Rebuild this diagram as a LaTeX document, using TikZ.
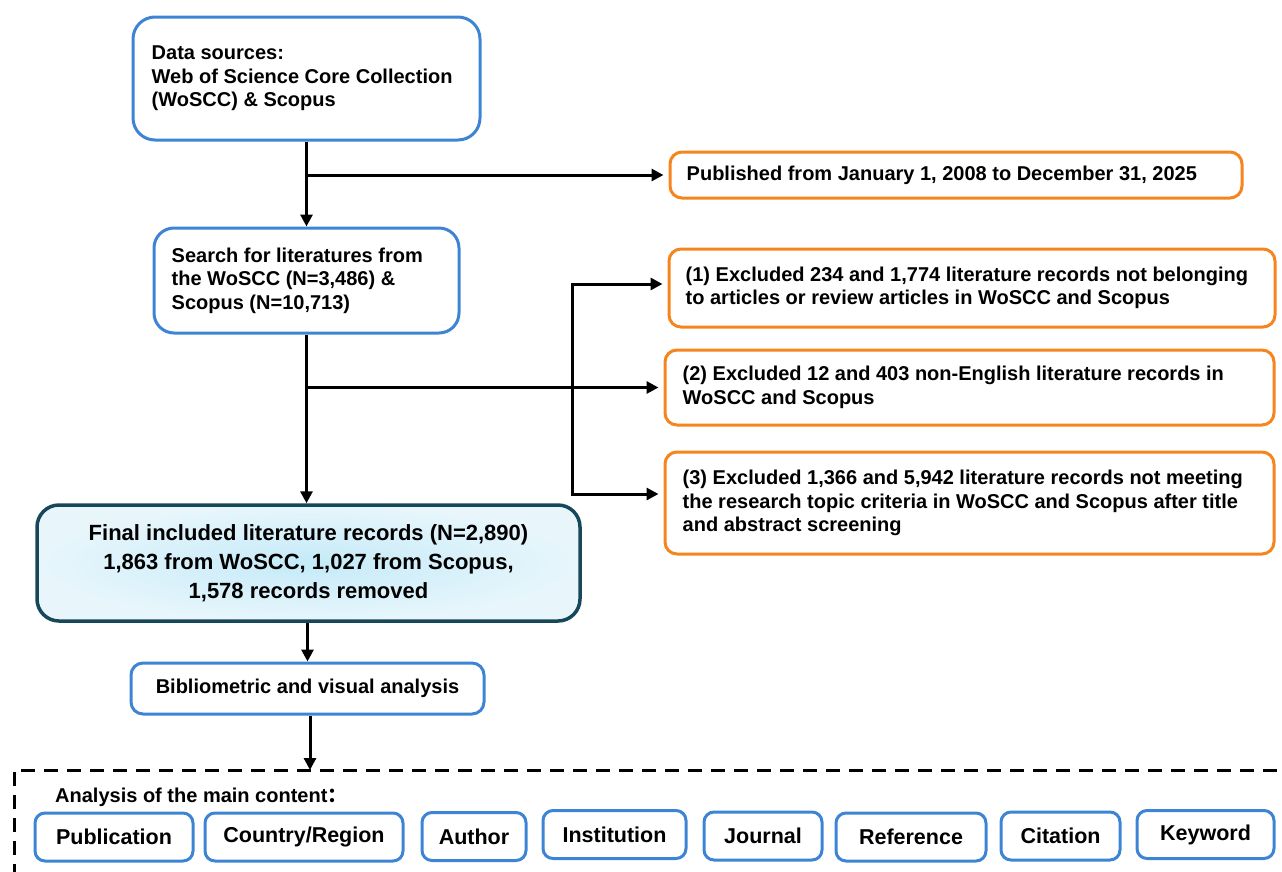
\documentclass[tikz,border=0pt]{standalone}
\usepackage{fontspec}
\setmainfont{Liberation Sans}
\newfontfamily\cjkfont{Noto Sans CJK SC}
\usetikzlibrary{arrows.meta,calc}
\definecolor{bblue}{RGB}{61,133,212}
\definecolor{borange}{RGB}{247,133,30}
\definecolor{dteal}{RGB}{23,72,90}
\definecolor{fillin}{RGB}{196,234,248}
\definecolor{fillout}{RGB}{232,246,252}
\begin{document}
\begin{tikzpicture}[x=1pt,y=-1pt,
  bluebox/.style={draw=bblue, line width=3pt, rounded corners=#1, fill=white, inner sep=0pt},
  orangebox/.style={draw=borange, line width=3pt, rounded corners=12pt, fill=white, inner sep=0pt},
  txt/.style={font=\bfseries\fontsize{20}{23.5}\selectfont, align=left, inner sep=0pt},
  bigtxt/.style={font=\bfseries\fontsize{22}{29}\selectfont, align=center},
  itemtxt/.style={font=\bfseries\fontsize{21.5}{24}\selectfont},
  arr/.style={line width=3pt, -{Triangle[length=12pt,width=12pt]}},
  arrtwo/.style={line width=3pt, {Triangle[length=12pt,width=12pt]}-{Triangle[length=12pt,width=12pt]}},
  itembox/.style={bluebox=10pt, minimum height=48pt, itemtxt}
]
\useasboundingbox (0,0) rectangle (1282,871);
\clip (0,0) rectangle (1282,871);

% left column
\node[bluebox=22pt, minimum width=347pt, minimum height=123pt] (ds) at (306.5,78.5) {};
\node[txt, anchor=west] (dst) at ($(ds.west)+(20,0)$) {Data sources:\\Web of Science Core Collection\\(WoSCC) \& Scopus};

\node[bluebox=20pt, minimum width=305pt, minimum height=105pt] (search) at (306.5,280.5) {};
\node[txt, anchor=west] (searcht) at ($(search.west)+(19,0)$) {Search for literatures from\\the WoSCC (N=3,486) \&\\Scopus (N=10,713)};

\node[draw=dteal, line width=3.5pt, rounded corners=22pt, inner color=fillin, outer color=fillout,
  minimum width=543pt, minimum height=116pt, bigtxt] (final) at (308.5,563)
  {Final included literature records (N=2,890)\\1,863 from WoSCC, 1,027 from Scopus,\\1,578 records removed};

\node[bluebox=12pt, minimum width=353pt, minimum height=51pt, font=\bfseries\fontsize{20}{23.5}\selectfont] (biblio) at (307.5,688.5) {Bibliometric and visual analysis};

% right column
\node[orangebox, minimum width=572pt, minimum height=46pt] (pub) at (956,175) {};
\node[txt, anchor=west] (pubt) at ($(pub.west)+(18,0)$) {Published from January 1, 2008 to December 31, 2025};

\node[orangebox, minimum width=606pt, minimum height=78pt] (exa) at (972,288) {};
\node[txt, anchor=west] (exat) at ($(exa.west)+(18,0)$) {(1) Excluded 234 and 1,774 literature records not belonging\\to articles or review articles in WoSCC and Scopus};

\node[orangebox, minimum width=609pt, minimum height=75pt] (exb) at (969.5,387.5) {};
\node[txt, anchor=west] (exbt) at ($(exb.west)+(19,0)$) {(2) Excluded 12 and 403 non-English literature records in\\WoSCC and Scopus};

\node[orangebox, minimum width=609pt, minimum height=102pt] (exc) at (969.5,503) {};
\node[txt, anchor=west] (exct) at ($(exc.west)+(19,0)$) {(3) Excluded 1,366 and 5,942 literature records not meeting\\the research topic criteria in WoSCC and Scopus after title\\and abstract screening};

% connectors
\draw[arr] (ds.south) -- (search.north);
\draw[arr, shorten >=5pt] (ds.south |- pub.west) -- (pub.west);
\draw[arr] (search.south) -- (search.south |- final.north);
\draw[arr, shorten >=5pt] (search.south |- exb.west) -- (exb.west);
\coordinate (ja) at (572,284);
\coordinate (jc) at (572,494);
\draw[arrtwo, shorten <=5pt, shorten >=5pt] (ja -| exa.west) -- (ja) -- (jc) -- (jc -| exc.west);
\draw[arr] (final.south -| biblio.north) -- (biblio.north);

% dashed content area
\draw[line width=3pt, dash pattern=on 14pt off 9pt] (1300,770) -- (14,770) -- (14,900);
\coordinate (dtop) at (310,770);
\draw[arr] (biblio.south -| dtop) -- (dtop);

\node[txt, anchor=west] (analysis) at (55,797) {Analysis of the main content{\cjkfont ：}};

\node[itembox, minimum width=158pt] (i1) at (114,837) {Publication};
\node[itembox, minimum width=198pt] (i2) at (304,837) {Country/Region};
\node[itembox, minimum width=104pt] (i3) at (474,836.5) {Author};
\node[itembox, minimum width=143pt] (i4) at (614.5,834.5) {Institution};
\node[itembox, minimum width=118pt] (i5) at (763,836) {Journal};
\node[itembox, minimum width=150pt] (i6) at (911,837) {Reference};
\node[itembox, minimum width=119pt] (i7) at (1060.5,836) {Citation};
\node[itembox, minimum width=137pt] (i8) at (1205.5,834.5) {Keyword};
\end{tikzpicture}
\end{document}
